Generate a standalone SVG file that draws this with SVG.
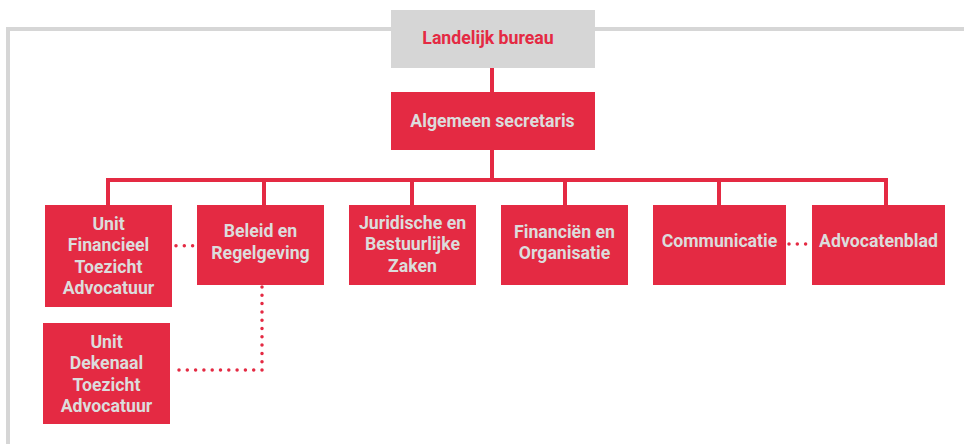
<svg xmlns="http://www.w3.org/2000/svg" width="964" height="444" viewBox="0 0 964 444">
<defs>
<style>
.red{fill:#E42A43}
.gray{fill:#D6D6D6}
.t{font-family:Roboto,"Liberation Sans",sans-serif;font-weight:bold;font-size:17.7px;text-anchor:middle;fill:#DCDCDC}
.tr{fill:#E42A43}
.line{stroke:#E42A43;stroke-width:4;fill:none}
.dot{stroke:#E42A43;stroke-width:3.5;fill:none;stroke-linecap:round;stroke-dasharray:0 8.3}
.frame{stroke:#D6D6D6;stroke-width:4;fill:none}
</style>
</defs>
<rect width="964" height="444" fill="#FFFFFF"/>
<g id="frame">
<path class="frame" d="M964 29 H8 V444"/>
</g>
<g id="connectors">
<path class="line" d="M492 67 V93"/>
<path class="line" d="M492 149 V180"/>
<path class="line" d="M108 205 V180 H886 V205"/>
<path class="line" d="M264 180 V205"/>
<path class="line" d="M412 180 V205"/>
<path class="line" d="M565 180 V205"/>
<path class="line" d="M719 180 V205"/>
<path class="dot" d="M176 245.7 H194"/>
<path class="dot" d="M789 244 H809"/>
<path class="dot" d="M262 287 V370 H176"/>
</g>
<g id="landelijk">
<rect class="gray" x="391" y="10" width="204" height="58"/>
<text class="t tr" x="488" y="43.5">Landelijk bureau</text>
</g>
<g id="algemeen">
<rect class="red" x="391" y="92" width="204" height="58"/>
<text class="t" x="492.5" y="126.5">Algemeen secretaris</text>
</g>
<g id="unit-financieel">
<rect class="red" x="45" y="205" width="127" height="102"/>
<text class="t" x="108.5" y="229.5">Unit</text>
<text class="t" x="108.5" y="251">Financieel</text>
<text class="t" x="108.5" y="272.5">Toezicht</text>
<text class="t" x="108.5" y="294">Advocatuur</text>
</g>
<g id="beleid">
<rect class="red" x="197" y="205" width="127" height="80"/>
<text class="t" x="260.5" y="237">Beleid en</text>
<text class="t" x="260.5" y="258.5">Regelgeving</text>
</g>
<g id="juridische">
<rect class="red" x="349" y="205" width="127" height="80"/>
<text class="t" x="412.5" y="228.5">Juridische en</text>
<text class="t" x="412.5" y="250">Bestuurlijke</text>
<text class="t" x="412.5" y="271.5">Zaken</text>
</g>
<g id="financien">
<rect class="red" x="501" y="205" width="127" height="80"/>
<text class="t" x="564.5" y="237.5">Financiën en</text>
<text class="t" x="564.5" y="259">Organisatie</text>
</g>
<g id="communicatie">
<rect class="red" x="653" y="205" width="133" height="80"/>
<text class="t" x="719.5" y="247">Communicatie</text>
</g>
<g id="advocatenblad">
<rect class="red" x="812" y="205" width="133" height="80"/>
<text class="t" x="878.5" y="247">Advocatenblad</text>
</g>
<g id="unit-dekenaal">
<rect class="red" x="43" y="323" width="127" height="101"/>
<text class="t" x="106.5" y="347.5">Unit</text>
<text class="t" x="106.5" y="369">Dekenaal</text>
<text class="t" x="106.5" y="390.5">Toezicht</text>
<text class="t" x="106.5" y="411.5">Advocatuur</text>
</g>
</svg>
